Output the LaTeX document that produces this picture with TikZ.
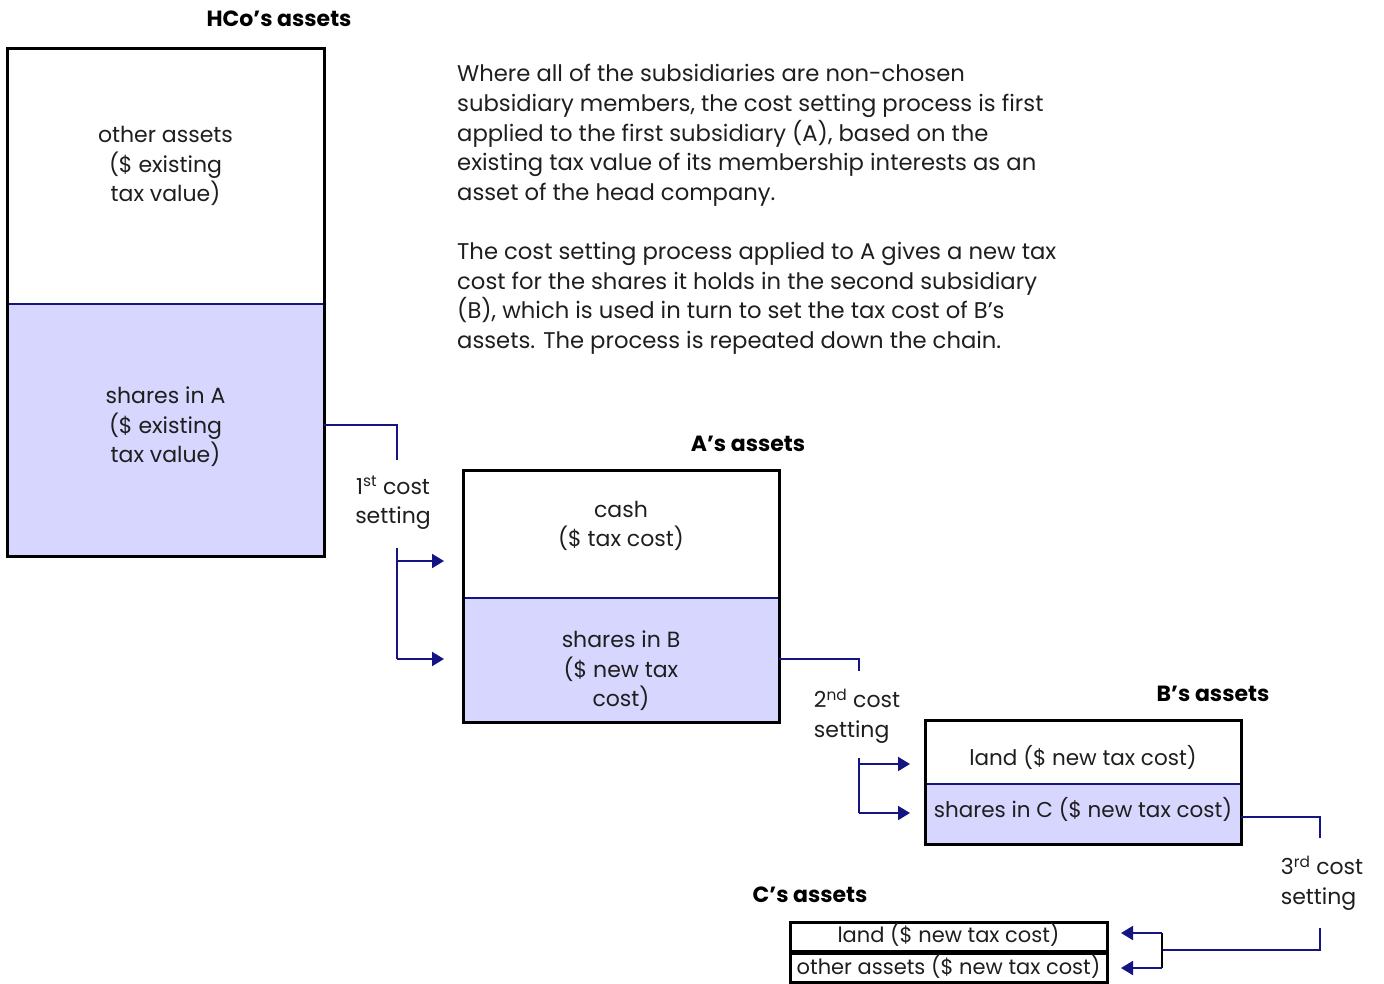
\documentclass[tikz,border=0pt]{standalone}
\usepackage{fontspec}
\setmainfont{Poppins}
\usetikzlibrary{arrows.meta,calc}
\definecolor{lav}{RGB}{214,214,255}
\definecolor{navyb}{RGB}{20,20,130}
\definecolor{ink}{RGB}{30,30,30}
\newcommand{\fs}{\fontsize{22}{29.5}\selectfont}
\newcommand{\fp}{\fontsize{22.7}{29.75}\selectfont}
\tikzset{
  part/.style={inner sep=0pt, outer sep=0pt},
  txt/.style={inner sep=0pt, align=center, text=ink, font=\fs},
  title/.style={inner sep=0pt, font=\fontsize{22}{26}\selectfont\bfseries, text=black},
  outline/.style={draw=black, line width=3pt},
  divider/.style={draw=navyb, line width=2.5pt},
  conn/.style={draw=navyb, line width=2pt},
  arr/.style={conn, -{Triangle[length=12pt,width=14pt]}},
  lbl/.style={inner sep=0pt, align=left, text=ink, font=\fs},
  para/.style={inner sep=0pt, align=left, text=ink, font=\fp},
}
\begin{document}
\begin{tikzpicture}[x=1pt,y=-1pt]
\useasboundingbox (0,0) rectangle (1384,983);

% HCo
\node[title] (hcoT) at (279,19) {HCo's assets};
\node[part, fill=white, minimum width=317pt, minimum height=256pt] (hcoTop) at (165.5,176) {};
\node[part, fill=lav, minimum width=317pt, minimum height=252pt] (hcoBot) at (165.5,430) {};
\node[txt] (hcoTopT) at (165.5,166) {other assets\\(\$ existing\\tax value)};
\node[txt] (hcoBotT) at (165.5,427) {shares in A\\(\$ existing\\tax value)};
\draw[divider] (hcoTop.south west) -- (hcoTop.south east);
\draw[outline] (hcoTop.north west) rectangle (hcoBot.south east);

% paragraphs
\node[para, anchor=north west] (p1) at (457,64) {Where all of the subsidiaries are non-chosen\\subsidiary members, the cost setting process is first\\applied to the first subsidiary (A), based on the\\existing tax value of its membership interests as an\\asset of the head company.};
\node[para, anchor=north west] (p2) at (457,242) {The cost setting process applied to A gives a new tax\\cost for the shares it holds in the second subsidiary\\(B), which is used in turn to set the tax cost of B's\\assets. The process is repeated down the chain.};

% A
\node[title] (aT) at (748,444) {A's assets};
\node[part, fill=white, minimum width=316pt, minimum height=128pt] (aTop) at (621,534) {};
\node[part, fill=lav, minimum width=316pt, minimum height=124pt] (aBot) at (621,660) {};
\node[txt] (aTopT) at (621,526) {cash\\(\$ tax cost)};
\node[txt] (aBotT) at (621,671) {shares in B\\(\$ new tax\\cost)};
\draw[divider] (aTop.south west) -- (aTop.south east);
\draw[outline] (aTop.north west) rectangle (aBot.south east);

% 1st cost setting
\node[lbl, align=center] (c1) at (393,503) {1\textsuperscript{st} cost\\setting};
\coordinate (c1a) at (397,460);
\coordinate (c1b) at (397,548);
\coordinate (c1u) at (397,561);
\coordinate (c1d) at (397,659);
\draw[conn] (hcoBot.east |- 0,425) -| (c1a);
\draw[conn] (c1b) -- (c1d);
\draw[arr, shorten >=19pt] (c1u) -- (aTop.west |- c1u);
\draw[arr, shorten >=19pt] (c1d) -- (aBot.west |- c1d);

% B
\node[title] (bT) at (1213,694) {B's assets};
\node[part, fill=white, minimum width=316pt, minimum height=64pt] (bTop) at (1083,752) {};
\node[part, fill=lav, minimum width=316pt, minimum height=60pt] (bBot) at (1083,814) {};
\node[txt, font=\fontsize{21.5}{26}\selectfont] (bTopT) at (1083,757) {land (\$ new tax cost)};
\node[txt, font=\fontsize{21.5}{26}\selectfont] (bBotT) at (1083,809) {shares in C (\$ new tax cost)};
\draw[divider] (bTop.south west) -- (bTop.south east);
\draw[outline] (bTop.north west) rectangle (bBot.south east);

% 2nd cost setting
\node[lbl, align=left] (c2) at (857,716) {2\textsuperscript{nd} cost\\setting};
\coordinate (c2a) at (859,671);
\coordinate (c2u) at (859,758);
\coordinate (c2m) at (859,764);
\coordinate (c2d) at (859,813);
\draw[conn] (aBot.east |- 0,659) -| (c2a);
\draw[conn] (c2u) -- (c2d);
\draw[arr, shorten >=15pt] (c2m) -- (bTop.west |- c2m);
\draw[arr, shorten >=15pt] (c2d) -- (bBot.west |- c2d);

% C
\node[title] (cT) at (810,895) {C's assets};
\node[part, fill=white, draw=black, line width=3pt, minimum width=317pt, minimum height=29pt] (cTop) at (948.5,936.5) {};
\node[part, fill=white, draw=black, line width=3pt, minimum width=317pt, minimum height=29pt] (cBot) at (948.5,967.5) {};
\node[txt, font=\fontsize{21}{26}\selectfont] (cTopT) at (948.5,935) {land (\$ new tax cost)};
\node[txt, font=\fontsize{21}{26}\selectfont] (cBotT) at (948.5,967) {other assets (\$ new tax cost)};

% 3rd cost setting
\node[lbl, align=left] (c3) at (1322,883) {3\textsuperscript{rd} cost\\setting};
\coordinate (c3a) at (1320,838);
\coordinate (c3b) at (1320,928);
\coordinate (c3j) at (1162,950);
\coordinate (c3u) at (1162,933);
\coordinate (c3d) at (1162,968);
\draw[conn] (bBot.east |- 0,817) -| (c3a);
\draw[conn] (c3b) |- (c3j);
\draw[draw=black, line width=2pt] (c3u) -- (c3d);
\draw[arr, shorten >=14pt] (c3u) -- (cTop.east |- c3u);
\draw[arr, shorten >=14pt] (c3d) -- (cBot.east |- c3d);
\end{tikzpicture}
\end{document}
